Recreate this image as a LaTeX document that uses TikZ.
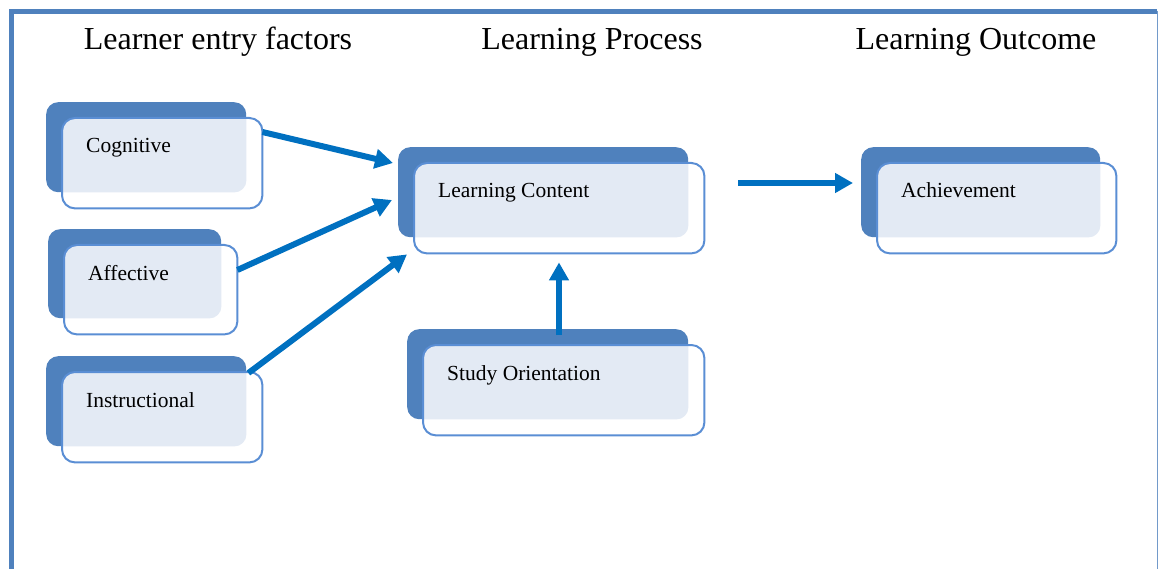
\documentclass[tikz,border=0pt]{standalone}
\usepackage{fontspec}
\setmainfont{Liberation Serif}
\usetikzlibrary{arrows.meta,calc}
\definecolor{backblue}{HTML}{4F81BD}
\definecolor{paleblue}{HTML}{E3EAF4}
\definecolor{edgeblue}{HTML}{5A8ED4}
\definecolor{arrowblue}{HTML}{0070C0}
\tikzset{
  backbox/.style={draw=none,fill=backblue,rounded corners=12pt,anchor=north west,inner sep=0pt},
  frontbox/.style={draw=none,fill=white,rounded corners=13pt,anchor=north west,inner sep=0pt},
  frontline/.style={draw=edgeblue,line width=2pt,rounded corners=13pt},
  boxtext/.style={anchor=base west,inner sep=0pt,font=\fontsize{21.5}{24}\selectfont},
  heading/.style={anchor=base,inner sep=0pt,font=\fontsize{32}{36}\selectfont},
  flow/.style={draw=arrowblue,line width=6pt,-{Triangle[length=18pt,width=19pt]}}
}
% #1 name, #2 x, #3 y (top left of back box), #4 width, #5 height, #6 text
\newcommand{\factorbox}[6]{%
  \node[backbox,minimum width=#4pt,minimum height=#5pt] (#1-b) at (#2,#3) {};
  \node[frontbox,minimum width=#4pt,minimum height=#5pt] (#1) at ($(#2,#3)+(16,16)$) {};
  \begin{scope}
    \clip[rounded corners=13pt] (#1.south west) rectangle (#1.north east);
    \fill[paleblue,rounded corners=12pt] (#1-b.south west) rectangle (#1-b.north east);
  \end{scope}
  \draw[frontline] (#1.south west) rectangle (#1.north east);
  \node[boxtext] (#1-t) at ($(#1.north west)+(24,35)$) {#6};
}
\begin{document}
\begin{tikzpicture}[x=1pt,y=-1pt]
\useasboundingbox (0,0) rectangle (1159,569);
% frame, open at the bottom
\draw[backblue,line width=4.5pt] (11.5,569) -- (11.5,11.5) -- (1157,11.5);
\draw[backblue!80,line width=1.2pt] (1157.5,11.5) -- (1157.5,569);
% column headings
\node[heading] (entry) at (218,50) {Learner entry factors};
\node[heading] (process) at (592,50) {Learning Process};
\node[heading] (outcome) at (976,50) {Learning Outcome};
% boxes
\factorbox{cog}{46}{102}{200}{90}{Cognitive}
\factorbox{aff}{48}{229}{173}{89}{Affective}
\factorbox{ins}{46}{356}{200}{90}{Instructional}
\factorbox{lc}{398}{147}{290}{90}{Learning Content}
\factorbox{so}{407}{329}{281}{90}{Study Orientation}
\factorbox{ach}{861}{147}{239}{90}{Achievement}
% arrows
\draw[flow] ($(cog.north east)+(0,14)$) -- ($(lc-b.north west)+(-5,16)$);
\draw[flow] ($(aff.north east)+(0,25)$) -- ($(lc-b.north west)+(-6,53)$);
\draw[flow] ($(ins.north east)+(-14,1)$) -- ($(lc-b.south west)+(9,17)$);
\draw[flow] ($(so-b.north west)+(152,6)$) -- ($(lc.south west)+(145,9)$);
\draw[flow] ($(lc.north east)+(34,20)$) -- ($(ach-b.north west)+(-8,36)$);
\end{tikzpicture}
\end{document}
